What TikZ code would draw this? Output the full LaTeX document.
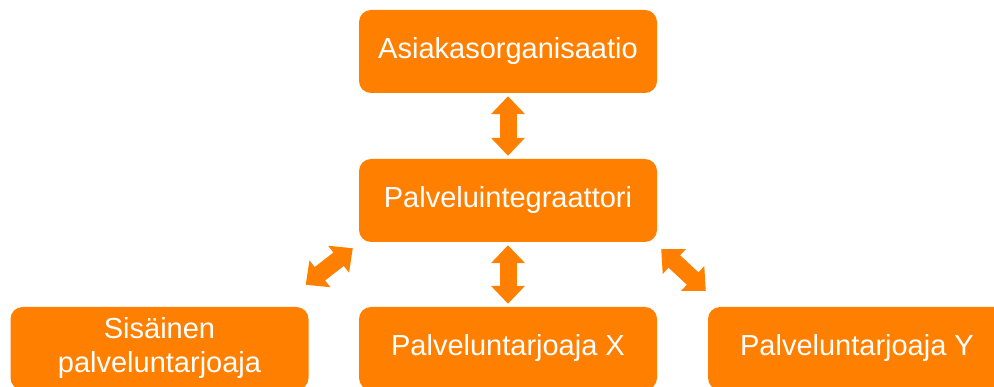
\documentclass[tikz,border=0pt]{standalone}
\usepackage{fontspec}
\setmainfont{Liberation Sans}
\usetikzlibrary{arrows.meta,calc}
\definecolor{boxorange}{RGB}{255,128,0}
\tikzset{
  box/.style={fill=boxorange, draw=none, rounded corners=12pt, text=white,
    minimum width=298pt, minimum height=83pt, inner sep=0pt, align=center,
    font=\fontsize{29pt}{34pt}\selectfont},
  bigarrow/.style={draw=boxorange, line width=17pt,
    {Triangle[length=18pt,width=33pt]}-{Triangle[length=18pt,width=33pt]}}
}
\begin{document}
\begin{tikzpicture}[x=1pt,y=-1pt]
\useasboundingbox (0,0) rectangle (994,387);
\clip (0,0) rectangle (994,387);
\node[box] (top) at (508,51.5) {Asiakasorganisaatio};
\node[box] (mid) at (508,200.5) {Palveluintegraattori};
\node[box] (left) at (159.5,348.5) {Sisäinen\\palveluntarjoaja};
\node[box] (bmid) at (508,348.5) {Palveluntarjoaja X};
\node[box] (right) at (857,348.5) {Palveluntarjoaja Y};
\draw[bigarrow] ($(top.south)+(0,3)$) -- ($(mid.north)+(0,-3)$);
\draw[bigarrow] ($(mid.south)+(0,3)$) -- ($(bmid.north)+(0,-3)$);
\draw[bigarrow] ($(mid.south west)+(-6,6)$) -- ($(left.north east)+(-3,-22)$);
\draw[bigarrow] ($(mid.south east)+(4,7)$) -- ($(right.north west)+(-2,-16)$);
\end{tikzpicture}
\end{document}
